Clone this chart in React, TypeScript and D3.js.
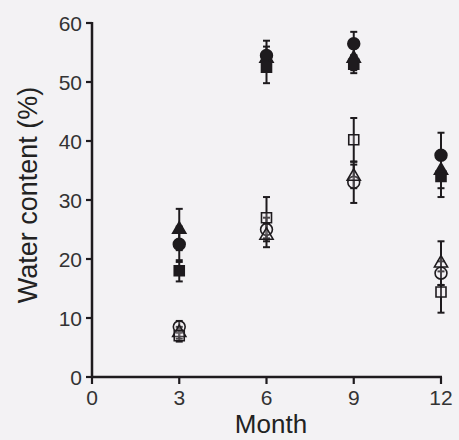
import React from "react";
import * as d3 from "d3";

const months = [3, 6, 9, 12];
const xTicks = [0, 3, 6, 9, 12];
const yTicks = [0, 10, 20, 30, 40, 50, 60];

const seriesNames = ["filledCircle", "filledTriangle", "filledSquare", "openCircle", "openTriangle", "openSquare"];
const filledCircle = [22.5, 54.5, 56.5, 37.6];
const filledCircleErr = [3, 2.5, 2, 3.8];
const filledTriangle = [25, 54, 54, 35];
const filledTriangleErr = [3.5, 2, 2, 3];
const filledSquare = [18, 52.5, 53, 34];
const filledSquareErr = [1.8, 2.7, 1.5, 3.5];
const openCircle = [8.5, 25, 33, 17.6];
const openCircleErr = [1, 2, 3.5, 2];
const openTriangle = [7.5, 24, 34, 19.3];
const openTriangleErr = [1, 2, 2, 3.7];
const openSquare = [7, 27, 40.2, 14.4];
const openSquareErr = [1, 3.5, 3.7, 3.5];

const seriesValues = [filledCircle, filledTriangle, filledSquare, openCircle, openTriangle, openSquare];
const seriesErrs = [filledCircleErr, filledTriangleErr, filledSquareErr, openCircleErr, openTriangleErr, openSquareErr];
const seriesShapes = ["circle", "triangle", "square", "circle", "triangle", "square"];
const seriesFilled = [true, true, true, false, false, false];

const W = 459, H = 440;
const ink = "#1e1b1e";
const bg = "#f3f2f4";

export default function App() {
  const x = d3.scaleLinear().domain([0, 12]).range([92, 441]);
  const y = d3.scaleLinear().domain([0, 60]).range([377, 23]);
  const sym = (shape: string) => {
    const t = shape === "circle" ? d3.symbolCircle : shape === "triangle" ? d3.symbolTriangle : d3.symbolSquare;
    const size = shape === "circle" ? 110 : shape === "triangle" ? 75 : 100;
    return d3.symbol().type(t).size(size)() as string;
  };
  return (
    <svg width={W} height={H} style={{ position: "absolute", left: 0, top: 0, background: bg }}
      fontFamily="'Liberation Sans', Arial, Helvetica, sans-serif">
      <rect x={0} y={0} width={W} height={H} fill={bg} />
      {seriesValues.map((vals, si) =>
        vals.map((v, i) => {
          const e = seriesErrs[si][i];
          const cx = x(months[i]);
          return (
            <g key={`e${si}-${i}`} stroke={ink} strokeWidth={2}>
              <line x1={cx} x2={cx} y1={y(v + e)} y2={y(v - e)} />
              <line x1={cx - 3.5} x2={cx + 3.5} y1={y(v + e)} y2={y(v + e)} />
              <line x1={cx - 3.5} x2={cx + 3.5} y1={y(v - e)} y2={y(v - e)} />
            </g>
          );
        })
      )}
      {[3, 4, 5, 1, 0, 2].map((si) =>
        seriesValues[si].map((v, i) => (
          <path key={`m${si}-${i}`} d={sym(seriesShapes[si])}
            transform={`translate(${x(months[i])},${y(v)})`}
            fill={seriesFilled[si] ? ink : bg} fillOpacity={seriesFilled[si] ? 1 : 0.2}
            stroke={ink} strokeWidth={1.6} />
        ))
      )}
      <line x1={92} x2={92} y1={22} y2={378} stroke={ink} strokeWidth={2.5} />
      <line x1={91} x2={442} y1={377} y2={377} stroke={ink} strokeWidth={2.5} />
      {yTicks.map((t) => (
        <g key={`yt${t}`}>
          <line x1={86} x2={92} y1={y(t)} y2={y(t)} stroke={ink} strokeWidth={2.2} />
          <text x={82} y={y(t) + 7.5} textAnchor="end" fontSize={21} fill="#333">{t}</text>
        </g>
      ))}
      {xTicks.map((t) => (
        <g key={`xt${t}`}>
          <line x1={x(t)} x2={x(t)} y1={377} y2={384} stroke={ink} strokeWidth={2.2} />
          <text x={x(t)} y={405} textAnchor="middle" fontSize={21} fill="#333">{t}</text>
        </g>
      ))}
      <text x={271} y={433} textAnchor="middle" fontSize={26} fill="#222">Month</text>
      <text transform="translate(37,195) rotate(-90)" textAnchor="middle" fontSize={27} fill="#222">Water content (%)</text>
    </svg>
  );
}
